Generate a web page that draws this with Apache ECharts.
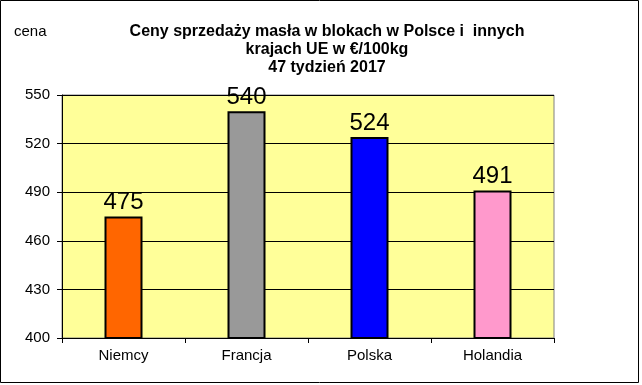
<!DOCTYPE html>
<html><head><meta charset="utf-8">
<script src="https://cdn.jsdelivr.net/npm/echarts@6/dist/echarts.min.js"></script>
<style>html,body{margin:0;padding:0;background:#fff}#c{width:642px;height:385px}</style>
</head><body><div id="c"></div>
<script>
var categories = ['Niemcy', 'Francja', 'Polska', 'Holandia'];
var values = [475, 540, 524, 491];
var colors = ['#FF6600', '#999999', '#0000FF', '#FF99CC'];
var yTicks = [400, 430, 460, 490, 520, 550];

var chart = echarts.init(document.getElementById('c'));
chart.setOption({
  animation: false,
  backgroundColor: '#ffffff',
  textStyle: { fontFamily: 'Liberation Sans, Arial, sans-serif' },
  title: {
    text: 'Ceny sprzedaży masła w blokach w Polsce i  innych\nkrajach UE w €/100kg\n47 tydzień 2017',
    left: 322, textAlign: 'center', top: 18,
    textStyle: { fontSize: 16, fontWeight: 'bold', lineHeight: 18, color: '#000', fontFamily: 'Liberation Sans, Arial, sans-serif' }
  },
  graphic: [
    { type: 'rect', shape: { x: 0.5, y: 0.5, width: 638, height: 382 }, style: { fill: 'none', stroke: '#000', lineWidth: 1 }, silent: true },
    { type: 'text', left: 14, top: 24, style: { text: 'cena', fontSize: 15, fill: '#000', fontFamily: 'Liberation Sans, Arial, sans-serif' } }
  ],
  grid: { left: 62, right: 88, top: 95, bottom: 47, show: true, backgroundColor: '#FFFF99', borderColor: '#808080', borderWidth: 1 },
  xAxis: {
    type: 'category', data: categories,
    axisLine: { lineStyle: { color: '#000' } },
    axisTick: { show: true, length: 5, alignWithLabel: false, lineStyle: { color: '#000' } },
    axisLabel: { fontSize: 15, color: '#000', margin: 10 }
  },
  yAxis: {
    type: 'value', min: yTicks[0], max: yTicks[yTicks.length - 1], interval: 30,
    axisLine: { show: true, lineStyle: { color: '#000' } },
    axisTick: { show: true, length: 5, lineStyle: { color: '#000' } },
    axisLabel: { fontSize: 15, color: '#000', margin: 12 },
    splitLine: { show: true, lineStyle: { color: '#000', width: 1 } }
  },
  series: [{
    type: 'bar', barWidth: 38,
    data: values.map(function (v, i) { return { value: v, itemStyle: { color: colors[i] } }; }),
    itemStyle: { borderColor: '#000', borderWidth: 2 },
    label: { show: true, position: 'top', distance: 2, fontSize: 24, color: '#000', fontFamily: 'Liberation Sans, Arial, sans-serif' }
  }]
});
</script></body></html>
